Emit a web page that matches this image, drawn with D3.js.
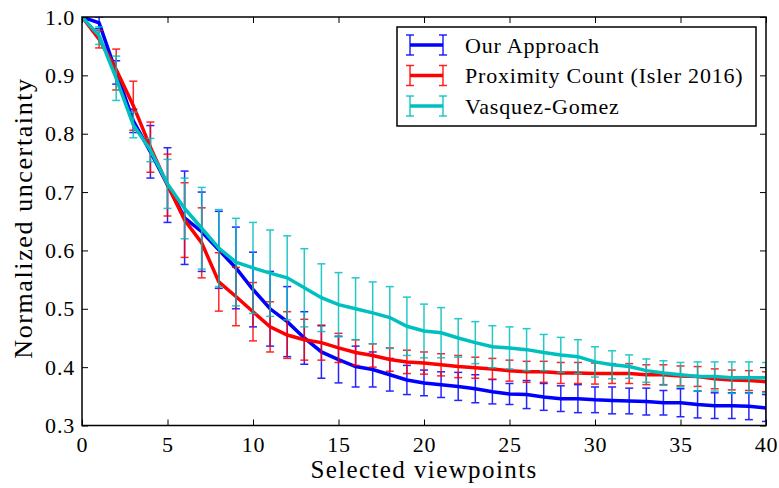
<!DOCTYPE html>
<html><head><meta charset="utf-8">
<script src="https://cdn.jsdelivr.net/npm/d3@7"></script>
<style>body{margin:0;background:#fff}svg{display:block}text{font-family:"Liberation Serif","DejaVu Serif",serif;fill:#000}</style>
</head><body><div id="chart"></div>
<script>
const steps = d3.range(0, 41);
const seriesNames = ["Our Approach", "Proximity Count (Isler 2016)", "Vasquez-Gomez"];
const seriesColors = ["#0000ff", "#ff0000", "#00bfbf"];
const ourMean = [1.0,0.99,0.905,0.822,0.769,0.712,0.656,0.632,0.601,0.570,0.533,0.500,0.478,0.450,0.426,0.413,0.401,0.396,0.387,0.378,0.373,0.370,0.367,0.363,0.358,0.354,0.353,0.349,0.346,0.346,0.344,0.343,0.342,0.341,0.339,0.339,0.336,0.334,0.334,0.333,0.330];
const ourStd = [0.0,0.01,0.02,0.02,0.045,0.064,0.08,0.068,0.066,0.07,0.064,0.064,0.06,0.045,0.045,0.04,0.035,0.03,0.028,0.025,0.022,0.022,0.024,0.024,0.021,0.018,0.024,0.023,0.022,0.024,0.022,0.023,0.022,0.023,0.021,0.024,0.023,0.022,0.022,0.023,0.023];
const proxMean = [1.0,0.962,0.91,0.848,0.777,0.712,0.652,0.613,0.546,0.521,0.495,0.469,0.455,0.447,0.442,0.433,0.425,0.420,0.413,0.409,0.407,0.404,0.401,0.399,0.397,0.394,0.392,0.392,0.390,0.390,0.389,0.389,0.389,0.387,0.387,0.385,0.384,0.380,0.378,0.377,0.375];
const proxStd = [0.0,0.015,0.035,0.042,0.043,0.053,0.064,0.06,0.05,0.05,0.05,0.043,0.04,0.035,0.03,0.025,0.022,0.02,0.02,0.02,0.019,0.019,0.019,0.018,0.018,0.018,0.018,0.018,0.018,0.018,0.018,0.017,0.017,0.017,0.017,0.017,0.017,0.017,0.017,0.017,0.017];
const vgMean = [1.0,0.968,0.895,0.815,0.772,0.714,0.672,0.638,0.604,0.580,0.570,0.561,0.553,0.536,0.519,0.507,0.500,0.493,0.485,0.470,0.462,0.459,0.450,0.442,0.435,0.433,0.430,0.425,0.421,0.418,0.409,0.404,0.401,0.394,0.390,0.387,0.384,0.384,0.382,0.382,0.382];
const vgStd = [0.0,0.015,0.038,0.022,0.02,0.042,0.052,0.07,0.066,0.075,0.078,0.074,0.072,0.067,0.058,0.055,0.053,0.053,0.053,0.05,0.046,0.043,0.033,0.036,0.036,0.036,0.036,0.031,0.03,0.029,0.026,0.024,0.02,0.02,0.021,0.021,0.025,0.025,0.027,0.027,0.026];
const xTicks = [0,5,10,15,20,25,30,35,40];
const yTicks = [0.3,0.4,0.5,0.6,0.7,0.8,0.9,1.0];
const xLabel = "Selected viewpoints";
const yLabel = "Normalized uncertainty";

const FONT = '"Liberation Serif","DejaVu Serif",serif';
const W = 779, H = 488;
const m = {left: 82, right: 13, top: 17, bottom: 62.5};
const svg = d3.select("#chart").append("svg").attr("width", W).attr("height", H);
const x = d3.scaleLinear().domain([0, 40]).range([m.left, W - m.right]);
const y = d3.scaleLinear().domain([0.3, 1.0]).range([H - m.bottom, m.top]);

const series = [
  {name: seriesNames[0], color: seriesColors[0], mean: ourMean, std: ourStd},
  {name: seriesNames[1], color: seriesColors[1], mean: proxMean, std: proxStd},
  {name: seriesNames[2], color: seriesColors[2], mean: vgMean, std: vgStd}
];

const defs = svg.append("defs");
defs.append("clipPath").attr("id", "clip").append("rect")
  .attr("x", m.left).attr("y", m.top).attr("width", W - m.left - m.right).attr("height", H - m.top - m.bottom);

const plot = svg.append("g").attr("clip-path", "url(#clip)");
const line = d3.line().x((d, i) => x(steps[i])).y(d => y(d));
const cap = 4;

series.forEach(s => {
  const g = plot.append("g");
  const eb = g.append("g").attr("stroke", s.color).attr("stroke-width", 1.5).attr("opacity", 0.85);
  steps.forEach((st, i) => {
    const hi = y(s.mean[i] + s.std[i]), lo = y(s.mean[i] - s.std[i]), cx = x(st);
    eb.append("line").attr("x1", cx).attr("x2", cx).attr("y1", hi).attr("y2", lo);
    eb.append("line").attr("x1", cx - cap).attr("x2", cx + cap).attr("y1", hi).attr("y2", hi);
    eb.append("line").attr("x1", cx - cap).attr("x2", cx + cap).attr("y1", lo).attr("y2", lo);
  });
  g.append("path").datum(s.mean).attr("d", line).attr("fill", "none")
    .attr("stroke", s.color).attr("stroke-width", 3.5).attr("stroke-linejoin", "miter");
});

// axes (ticks inside, all four sides)
const tl = 6;
const axB = svg.append("g").attr("transform", `translate(0,${H - m.bottom})`)
  .call(d3.axisBottom(x).tickValues(xTicks).tickSizeInner(-tl).tickSizeOuter(0).tickPadding(11).tickFormat(d3.format("d")));
const axT = svg.append("g").attr("transform", `translate(0,${m.top})`)
  .call(d3.axisTop(x).tickValues(xTicks).tickSizeInner(-tl).tickSizeOuter(0).tickFormat(""));
const axL = svg.append("g").attr("transform", `translate(${m.left},0)`)
  .call(d3.axisLeft(y).tickValues(yTicks).tickSizeInner(-tl).tickSizeOuter(0).tickPadding(7).tickFormat(d3.format(".1f")));
const axR = svg.append("g").attr("transform", `translate(${W - m.right},0)`)
  .call(d3.axisRight(y).tickValues(yTicks).tickSizeInner(-tl).tickSizeOuter(0).tickFormat(""));
[axB, axT, axL, axR].forEach(a => {
  a.attr("font-family", FONT);
  a.select(".domain").remove();
  a.selectAll(".tick line").attr("stroke", "#000").attr("stroke-width", 1);
  a.selectAll("text").style("font-family", FONT).style("font-size", "22px").style("letter-spacing", "0.8px").attr("fill", "#000");
});

svg.append("rect").attr("x", m.left).attr("y", m.top)
  .attr("width", W - m.left - m.right).attr("height", H - m.top - m.bottom)
  .attr("fill", "none").attr("stroke", "#000").attr("stroke-width", 1.5);

svg.append("text").attr("x", (m.left + W - m.right) / 2).attr("y", 478)
  .attr("text-anchor", "middle").style("font-size", "25px").style("letter-spacing", "1.4px").text(xLabel);
svg.append("text").attr("transform", `translate(32,218) rotate(-90)`)
  .attr("text-anchor", "middle").style("font-size", "26px").style("letter-spacing", "1.6px").text(yLabel);

// legend
const lg = svg.append("g");
lg.append("rect").attr("x", 397).attr("y", 27).attr("width", 359).attr("height", 99)
  .attr("fill", "#fff").attr("stroke", "#000").attr("stroke-width", 1.5);
series.forEach((s, i) => {
  const cy = 45 + i * 30.5;
  const g = lg.append("g").attr("stroke", s.color);
  g.append("line").attr("x1", 410).attr("x2", 443).attr("y1", cy).attr("y2", cy).attr("stroke-width", 3.5);
  [410, 443].forEach(cx => {
    g.append("line").attr("x1", cx).attr("x2", cx).attr("y1", cy - 10).attr("y2", cy + 10).attr("stroke-width", 1.5).attr("opacity", 0.85);
    g.append("line").attr("x1", cx - cap).attr("x2", cx + cap).attr("y1", cy - 10).attr("y2", cy - 10).attr("stroke-width", 1.5).attr("opacity", 0.85);
    g.append("line").attr("x1", cx - cap).attr("x2", cx + cap).attr("y1", cy + 10).attr("y2", cy + 10).attr("stroke-width", 1.5).attr("opacity", 0.85);
  });
  lg.append("text").attr("x", 465).attr("y", cy).attr("dy", "0.35em")
    .style("font-size", "22px").style("letter-spacing", "0.8px").text(s.name);
});
</script></body></html>
